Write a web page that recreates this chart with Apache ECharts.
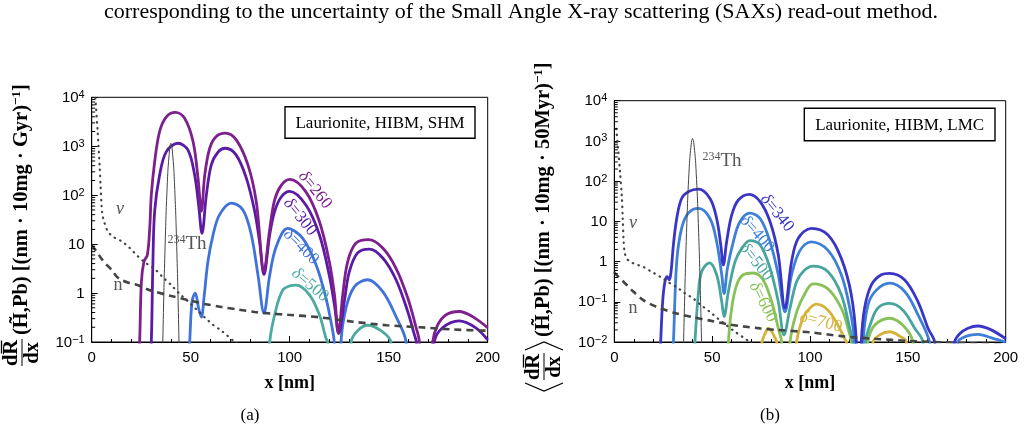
<!DOCTYPE html>
<html><head><meta charset="utf-8">
<script src="https://cdn.jsdelivr.net/npm/echarts@6/dist/echarts.min.js"></script>
<style>html,body{margin:0;padding:0;background:#fff;}#c{width:1025px;height:435px;}</style>
</head><body><div id="c"></div>
<script>
// ---------------- data ----------------
const CAPTION_TOP = 'corresponding to the uncertainty of the Small Angle X-ray scattering (SAXs) read-out method.';
const PANEL_LABELS = ['(a)', '(b)'];
const BOX_LABELS = ['Laurionite, HIBM, SHM', 'Laurionite, HIBM, LMC'];
const X_NAME = 'x [nm]';
const Y_UNITS = ['Gyr', '50Myr'];
const X_RANGE = [0, 200];
const Y_RANGE_A = [0.1, 10000];
const Y_RANGE_B = [0.01, 10000];

// Panel (a): SHM
const A_D260 = [[22,0.001],[24.2,0.1],[25.1,1.7],[26.4,4.4],[28.1,6],[29.3,21],[30.1,100],[31.8,480],[34.3,2000],[37.7,4000],[42.2,4900],[47,3700],[51.2,1240],[53.7,223],[55.4,47],[57.1,258],[59.6,910],[62.9,1580],[67.5,1850],[73,1350],[78.9,415],[83.1,74],[87,2.8],[89.9,20],[92.4,80],[95.8,160],[100,210],[108.2,117],[115,29],[120,4.4],[122.6,0.93],[124.6,0.15],[126.8,0.93],[129.3,4.4],[133.5,10.5],[139.9,12.3],[147,8.3],[153.7,3.2],[159.6,0.8],[163.8,0.2],[165.5,0.1],[168,0.001],[172.2,0.1],[174.7,0.22],[179,0.36],[185.6,0.42],[192.4,0.33],[200,0.195]];
const A_D300 = [[28,0.001],[30.1,0.1],[30.9,4],[31.8,47],[34.3,258],[37.7,775],[43.6,1150],[48.6,840],[52,258],[54,63],[55.7,16.6],[57.9,100],[60.4,415],[63.8,760],[67.5,910],[73,660],[78.1,223],[82.3,47],[84.8,11],[87,2.4],[89.9,15.5],[92.4,47],[95.8,93],[100,120],[108.2,63],[115,15.5],[120,2.3],[122.6,0.57],[124.8,0.15],[127.6,0.68],[130.1,2.7],[134.3,6.6],[140.2,7.9],[147,5.2],[153.7,1.87],[159.6,0.42],[163,0.14],[164,0.1],[168,0.001],[173,0.1],[177.2,0.195],[185.6,0.27],[194,0.195],[200,0.11]];
const A_D400 = [[47,0.001],[49.5,0.1],[50.7,0.68],[52.3,1.0],[54,0.49],[55.4,0.32],[56.7,0.8],[58.7,4.4],[61.3,15.5],[64.6,40],[70.5,69],[76.4,50],[80.6,15.5],[84,2.3],[87,0.39],[89.9,2.3],[93.2,8.9],[99,21],[106.5,13.2],[113.3,3.8],[118.3,0.8],[121.7,0.17],[122.5,0.1],[124,0.001],[125.9,0.1],[128.4,0.49],[132.7,1.36],[139.4,1.87],[147,1.07],[153.7,0.33],[158.8,0.1],[162,0.001]];
const A_D500 = [[87,0.001],[89.9,0.1],[93.2,0.49],[96.6,1.17],[100,1.4],[103.2,1.45],[109.9,0.93],[115,0.36],[118.3,0.12],[119.2,0.1],[122,0.001],[128,0.001],[131,0.1],[134.3,0.17],[139.4,0.22],[146.1,0.17],[151.1,0.1],[154,0.001]];
const A_NU = [[1,30000],[2,8000],[3,2000],[4,400],[4.5,150],[5,60],[5.5,38],[6.5,27],[8.2,18],[11,14],[15,11.5],[19,8.5],[23.4,5.6],[27,4.2],[31.8,3.1],[36,2.1],[40.2,1.45],[44,1.0],[48.6,0.68],[53,0.46],[57,0.32],[61,0.23],[65.5,0.17],[72.2,0.1],[80,0.055]];
const A_N = [[0,9.5],[2,7.5],[5,5],[7.5,3.8],[10,3.0],[12.5,2.2],[15,1.85],[19,1.6],[23.4,1.45],[28,1.2],[31.8,1.07],[40.2,0.87],[48.6,0.72],[57,0.6],[65.5,0.52],[73.9,0.46],[82.3,0.41],[90.7,0.38],[99,0.36],[115,0.32],[132,0.26],[149,0.22],[165.8,0.2],[182.7,0.18],[200,0.17]];

// 234Th peak (same in both panels)
const TH = [[34.5,0.0001],[35.5,0.016],[36.5,1.3],[37.5,36],[38.5,330],[39.5,1000],[40,1150],[40.5,1000],[41.5,330],[42.5,36],[43.5,1.3],[44.5,0.016],[45.5,0.0001]];

// Panel (b): LMC
const B_D340 = [[22,0.0001],[23.7,0.01],[24.7,0.1],[25.9,0.32],[27.1,0.42],[28.1,0.35],[29,0.56],[30.2,2.6],[31.9,11.8],[34.4,37],[38,55],[43,63],[48.9,37],[52.3,11.8],[54.4,2.6],[55.7,0.82],[57.4,3.1],[60,14.4],[63.4,34],[69,47],[74.5,31],[79.6,9.8],[83.8,1.45],[87.2,0.07],[90.6,1.0],[94,3.8],[100.7,6.7],[109.2,4.6],[116,1.2],[121.1,0.15],[123.7,0.01],[125,0.0001],[126.2,0.01],[127.9,0.07],[131.3,0.26],[136.4,0.47],[140.7,0.51],[148.4,0.35],[155.2,0.1],[160.3,0.022],[163.7,0.01],[168,0.0001],[173.9,0.01],[176.5,0.016],[180.7,0.022],[185.8,0.025],[192.6,0.02],[200,0.012]];
const B_D400 = [[28,0.0001],[30.2,0.01],[31.9,1.0],[34.4,6.7],[37.8,16],[43,21],[48.9,11.8],[52.3,3.1],[54.9,0.47],[56.1,0.16],[57.8,0.68],[60.8,3.1],[64.2,9.8],[69.3,16],[74.5,11.8],[79.6,3.1],[83.8,0.47],[87.2,0.056],[90.6,0.47],[94.9,1.9],[100.7,3.1],[109.2,1.9],[116,0.47],[120.3,0.07],[122.8,0.01],[125,0.0001],[127.1,0.01],[129.6,0.083],[133.9,0.195],[140.7,0.29],[148.4,0.18],[155.2,0.047],[161.1,0.01],[168,0.0001],[175.6,0.01],[180,0.014],[185.8,0.0155],[194.3,0.012],[200,0.01]];
const B_D500 = [[39,0.0001],[41.2,0.01],[42.9,0.15],[44.6,0.56],[48.6,0.93],[52.3,0.47],[54.9,0.1],[56.1,0.043],[58.3,0.18],[61.7,1.0],[65.1,2.1],[69.3,3.3],[74.5,2.6],[79.6,0.68],[83.8,0.1],[86.7,0.015],[89.8,0.07],[93.2,0.32],[97,0.6],[101.5,0.77],[109.2,0.56],[116,0.15],[120.3,0.022],[122,0.01],[125,0.0001],[128.3,0.01],[131.3,0.032],[134.7,0.07],[140.7,0.091],[147.5,0.062],[153.5,0.022],[157.7,0.01],[161,0.0001]];
const B_D600 = [[56,0.0001],[58.3,0.01],[60,0.07],[62.5,0.26],[65.9,0.47],[71,0.52],[76.1,0.35],[80.4,0.1],[83.8,0.022],[85.5,0.01],[87.5,0.0001],[89.8,0.01],[93.2,0.056],[97.4,0.16],[101.5,0.28],[109.2,0.21],[116,0.07],[119.4,0.022],[121.1,0.01],[125,0.0001],[129.6,0.01],[133,0.026],[140.7,0.039],[147.5,0.026],[152.6,0.01],[156,0.0001]];
const B_D700 = [[73,0.0001],[75.5,0.01],[77,0.016],[78.8,0.022],[80.5,0.018],[82,0.013],[83,0.01],[86,0.0001],[91,0.0001],[93.2,0.01],[95.7,0.032],[98.3,0.056],[103.2,0.087],[109.2,0.062],[114.3,0.026],[117.7,0.012],[118.6,0.01],[125,0.0001],[132.2,0.01],[135.6,0.015],[140.7,0.018],[145.8,0.014],[149.2,0.01],[152,0.0001]];
const B_NU = [[1,2000],[2,600],[3,150],[3.8,45],[4.3,12],[4.8,3],[5.3,1.7],[6.3,1.2],[8,1.0],[11,0.85],[14.8,0.74],[19,0.56],[23.4,0.42],[27,0.32],[31.9,0.23],[36,0.165],[40.4,0.12],[44,0.085],[48.9,0.056],[53,0.038],[57.4,0.026],[61,0.019],[65.9,0.013],[69.3,0.01],[75,0.006]];
const B_N = [[0,0.55],[0.4,0.51],[4.6,0.32],[9.7,0.18],[14.8,0.11],[19,0.085],[23.4,0.069],[31.9,0.051],[40.4,0.041],[48.9,0.034],[57.4,0.028],[65.9,0.0245],[74.4,0.0218],[82.9,0.02],[99.9,0.0174],[116,0.014],[133,0.012],[150,0.0107],[167,0.0098],[185,0.0092],[200,0.0088]];

const A_LABELS = ['260', '300', '400', '500'];
const B_LABELS = ['340', '400', '500', '600', '700'];

// ---------------- styling ----------------
const SERIF = "'Liberation Serif','DejaVu Serif',serif";
const SANS = "'Liberation Sans','DejaVu Sans',sans-serif";
const COL_A = ['#7E1F8E', '#5B1AA5', '#3F72DA', '#4DAAA0'];
const COL_B = ['#3A36C5', '#3E7FDA', '#48A59E', '#89C158', '#D5B33A'];

function minorTicks(lo, hi) {
  const out = [];
  for (let e = lo; e < hi; e++) for (let k = 2; k <= 9; k++) out.push([0, +(k * Math.pow(10, e)).toPrecision(3)]);
  return out;
}

function logLabel(v) {
  const e = Math.round(Math.log10(v));
  if (e === 0) return '{b|1}';
  if (e === 1) return '{b|10}';
  return '{b|10}{s|' + (e < 0 ? '\u2212' : '') + Math.abs(e) + '}';
}

function xAxisCfg(gi) {
  return {
    gridIndex: gi, type: 'value', min: X_RANGE[0], max: X_RANGE[1], interval: 50,
    name: X_NAME, nameLocation: 'middle', nameGap: 32,
    nameTextStyle: { fontFamily: SERIF, fontWeight: 'bold', fontSize: 18, color: '#000' },
    axisLine: { show: true, onZero: false, lineStyle: { color: '#000', width: 1 } },
    axisTick: { show: true, inside: true, length: 6, lineStyle: { color: '#000' } },
    minorTick: { show: true, splitNumber: 5, length: 3, lineStyle: { color: '#000' } },
    splitLine: { show: false }, minorSplitLine: { show: false },
    axisLabel: { fontFamily: SANS, fontSize: 15, color: '#000', margin: 8, showMinLabel: true, showMaxLabel: true }
  };
}
function yAxisCfg(gi, range) {
  return {
    gridIndex: gi, type: 'log', logBase: 10, min: range[0], max: range[1],
    axisLine: { show: true, onZero: false, lineStyle: { color: '#000', width: 1 } },
    axisTick: { show: true, inside: true, length: 6, lineStyle: { color: '#000' } },
    splitLine: { show: false },
    axisLabel: {
      margin: 7, formatter: logLabel, showMinLabel: true, showMaxLabel: true,
      rich: {
        b: { fontFamily: SANS, fontSize: 15, color: '#000', lineHeight: 16, verticalAlign: 'bottom' },
        s: { fontFamily: SANS, fontSize: 11, color: '#000', lineHeight: 11, verticalAlign: 'top' }
      }
    }
  };
}

function line(gi, data, color, width, extra) {
  return Object.assign({
    type: 'line', xAxisIndex: gi, yAxisIndex: gi, data: data, showSymbol: false, symbol: 'none',
    smooth: 0.35, clip: true, silent: true, lineStyle: { color: color, width: width }
  }, extra || {});
}
function dashed(gi, data) {
  return line(gi, data, '#444', 2.6, { smooth: 0.3, lineStyle: { color: '#444', width: 2.6, type: [7, 5] }, z: 5 });
}
function dotted(gi, data) {
  return line(gi, data, '#444', 2.2, { smooth: 0.3, lineStyle: { color: '#444', width: 2.2, type: [0.5, 5.5], cap: 'round' }, z: 5 });
}
function thLine(gi) {
  return line(gi, TH, '#444', 1, { smooth: 0.15, z: 6 });
}
function minorSeries(gi, data) {
  return {
    type: 'custom', xAxisIndex: gi, yAxisIndex: gi, data: data, silent: true, clip: false, z: 10,
    renderItem: function (params, api) {
      const p = api.coord([api.value(0), api.value(1)]);
      return { type: 'line', shape: { x1: p[0], y1: p[1], x2: p[0] + 3.5, y2: p[1] }, style: { stroke: '#000', lineWidth: 1 } };
    }
  };
}

// ---------------- annotations ----------------
function deltaLabel(num, color, x, y, deg) {
  return {
    type: 'text', x: x, y: y, rotation: -deg * Math.PI / 180, z: 20,
    style: {
      text: '{i|\u03b4}{r|=' + num + '}', align: 'center', verticalAlign: 'middle',
      rich: {
        i: { fontFamily: SERIF, fontStyle: 'italic', fontSize: 17, fill: color },
        r: { fontFamily: SERIF, fontSize: 17, fill: color }
      }
    }
  };
}
function thLabel(x, y) {
  return {
    type: 'text', x: x, y: y, z: 20,
    style: {
      text: '{s|234}{t|Th}', align: 'center', verticalAlign: 'middle',
      rich: {
        s: { fontFamily: SERIF, fontSize: 12, fill: '#555', lineHeight: 12, verticalAlign: 'top' },
        t: { fontFamily: SERIF, fontSize: 19, fill: '#555', lineHeight: 20 }
      }
    }
  };
}
function plainLabel(txt, x, y, italic) {
  return {
    type: 'text', x: x, y: y, z: 20,
    style: { text: txt, align: 'center', verticalAlign: 'middle', fill: '#555',
      font: (italic ? 'italic ' : '') + '18px ' + SERIF }
  };
}
function boxLabel(txt, x, y, w, h) {
  return [
    { type: 'rect', shape: { x: x, y: y, width: w, height: h }, z: 15,
      style: { fill: '#fff', stroke: '#000', lineWidth: 1.4 } },
    { type: 'text', x: x + w / 2, y: y + h / 2 + 1, z: 16,
      style: { text: txt, align: 'center', verticalAlign: 'middle', fill: '#000', font: '17px ' + SERIF } }
  ];
}
function yTitle(gx, gy, unit, brackets) {
  const fs = 20.5;
  const bold = 'bold ' + fs + 'px ' + SERIF;
  const ch = [];
  let off = 0;
  const br = { stroke: '#000', lineWidth: 1.2, fill: null };
  if (brackets) {
    ch.push({ type: 'polyline', shape: { points: [[9, -19], [1, 0], [9, 19]] }, style: br });
    off = 12;
  }
  ch.push({ type: 'text', x: off + 13, y: -10, style: { text: 'dR', font: bold, align: 'center', verticalAlign: 'middle', fill: '#000' } });
  ch.push({ type: 'line', shape: { x1: off + 12.5, y1: -20.5, x2: off + 25.5, y2: -20.5 }, style: { stroke: '#000', lineWidth: 1.3 } });
  ch.push({ type: 'line', shape: { x1: off, y1: 0, x2: off + 27, y2: 0 }, style: { stroke: '#000', lineWidth: 1 } });
  ch.push({ type: 'text', x: off + 13, y: 11, style: { text: 'dx', font: bold, align: 'center', verticalAlign: 'middle', fill: '#000' } });
  off += 29;
  if (brackets) {
    ch.push({ type: 'polyline', shape: { points: [[off + 1, -19], [off + 9, 0], [off + 1, 19]] }, style: br });
    off += 12;
  }
  ch.push({
    type: 'text', x: off + 2, y: 0,
    style: {
      text: '{b|(H\u0303,Pb) [(nm \u00b7 10mg \u00b7 ' + unit + ')}{s|\u22121}{b|]}',
      align: 'left', verticalAlign: 'middle',
      rich: {
        b: { fontFamily: SERIF, fontWeight: 'bold', fontSize: fs, fill: '#000', lineHeight: 24 },
        s: { fontFamily: SERIF, fontWeight: 'bold', fontSize: 13, fill: '#000', lineHeight: 14, verticalAlign: 'top' }
      }
    }
  });
  return { type: 'group', x: gx, y: gy, rotation: Math.PI / 2, children: ch };
}

const graphics = [
  { type: 'text', x: 521, y: 12, style: { text: CAPTION_TOP, align: 'center', verticalAlign: 'middle', fill: '#000', font: '22px ' + SERIF } },
  { type: 'text', x: 250, y: 416, style: { text: PANEL_LABELS[0], align: 'center', verticalAlign: 'middle', fill: '#000', font: '17px ' + SERIF } },
  { type: 'text', x: 770, y: 416, style: { text: PANEL_LABELS[1], align: 'center', verticalAlign: 'middle', fill: '#000', font: '17px ' + SERIF } },
  ...boxLabel(BOX_LABELS[0], 285, 106.7, 190, 31.6),
  ...boxLabel(BOX_LABELS[1], 804.3, 108.3, 190.7, 32.4),
  deltaLabel(A_LABELS[0], COL_A[0], 315, 190, 51),
  deltaLabel(A_LABELS[1], COL_A[1], 300, 217, 51),
  deltaLabel(A_LABELS[2], COL_A[2], 301, 247, 45),
  deltaLabel(A_LABELS[3], COL_A[3], 310, 285, 40),
  deltaLabel(B_LABELS[0], COL_B[0], 777, 213, 51),
  deltaLabel(B_LABELS[1], COL_B[1], 757, 234, 49),
  deltaLabel(B_LABELS[2], COL_B[2], 756, 262, 51),
  deltaLabel(B_LABELS[3], COL_B[3], 763, 302, 63),
  deltaLabel(B_LABELS[4], COL_B[4], 821, 322, 15),
  thLabel(187, 244), thLabel(722, 161),
  plainLabel('\u03bd', 120, 209, true), plainLabel('n', 118, 285, false),
  plainLabel('\u03bd', 633, 223, true), plainLabel('n', 633, 308, false),
  yTitle(22, 366, Y_UNITS[0], false),
  yTitle(544, 392, Y_UNITS[1], true)
];

const option = {
  animation: false,
  backgroundColor: '#fff',
  grid: [
    { left: 91.7, top: 97.3, width: 396, height: 244.7, show: true, borderColor: '#000', borderWidth: 1, backgroundColor: 'transparent' },
    { left: 614.3, top: 100.7, width: 391.4, height: 241.3, show: true, borderColor: '#000', borderWidth: 1, backgroundColor: 'transparent' }
  ],
  xAxis: [xAxisCfg(0), xAxisCfg(1)],
  yAxis: [yAxisCfg(0, Y_RANGE_A), yAxisCfg(1, Y_RANGE_B)],
  series: [
    line(0, A_D500, COL_A[3], 2.8), line(0, A_D400, COL_A[2], 2.8), line(0, A_D300, COL_A[1], 2.8), line(0, A_D260, COL_A[0], 2.8),
    dotted(0, A_NU), dashed(0, A_N), thLine(0),
    line(1, B_D700, COL_B[4], 2.8), line(1, B_D600, COL_B[3], 2.8), line(1, B_D500, COL_B[2], 2.8), line(1, B_D400, COL_B[1], 2.8), line(1, B_D340, COL_B[0], 2.8),
    dotted(1, B_NU), dashed(1, B_N), thLine(1),
    minorSeries(0, minorTicks(-1, 4)), minorSeries(1, minorTicks(-2, 4))
  ],
  graphic: graphics
};

const chart = echarts.init(document.getElementById('c'), null, { renderer: 'canvas' });
chart.setOption(option);
</script></body></html>
